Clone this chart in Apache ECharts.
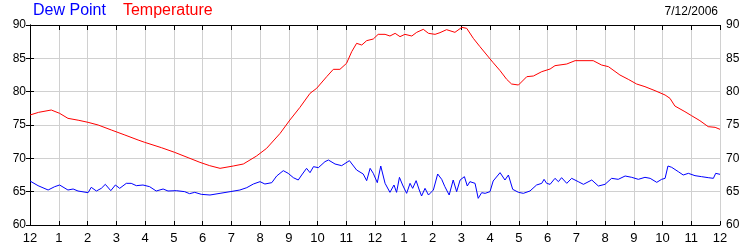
<!DOCTYPE html>
<html>
<head>
<meta charset="utf-8">
<script src="https://cdn.jsdelivr.net/npm/echarts@6/dist/echarts.min.js"></script>
<style>
html,body{margin:0;padding:0;background:#fff;}
#chart{width:750px;height:250px;}
</style>
</head>
<body>
<div id="chart"></div>
<script>
// Hour-of-day labels (0..24)
const hourLabels = ['12','1','2','3','4','5','6','7','8','9','10','11','12','1','2','3','4','5','6','7','8','9','10','11','12'];
const yTicks = [60, 65, 70, 75, 80, 85, 90];
const dateLabel = '7/12/2006';

// Temperature readings: hour of day, value (°F)
const tempHours = [0,0.3,0.74,1.03,1.32,1.7,2.02,2.37,2.83,3.3,3.76,3.99,4.57,5.03,5.5,5.91,6.25,6.61,7.07,7.42,7.88,8.23,8.7,9.04,9.39,9.74,9.97,10.32,10.55,10.78,11.01,11.19,11.36,11.54,11.71,11.94,12.11,12.35,12.52,12.7,12.87,13.04,13.28,13.45,13.68,13.86,14.09,14.26,14.49,14.78,15.02,15.19,15.42,15.65,15.89,16.11,16.35,16.58,16.75,16.99,17.28,17.51,17.8,18.09,18.26,18.67,18.96,19.59,19.88,20.12,20.52,20.81,21.1,21.39,21.74,22.09,22.26,22.43,22.78,23.01,23.3,23.59,23.83,24];
const tempValues = [76.5,76.9,77.25,76.75,76.0,75.7,75.4,75.0,74.25,73.5,72.75,72.4,71.6,70.9,70.1,69.4,68.9,68.5,68.85,69.15,70.35,71.5,73.75,75.75,77.65,79.75,80.5,82.25,83.35,83.35,84.25,86.0,87.25,87.0,87.65,87.9,88.6,88.6,88.35,88.75,88.25,88.6,88.35,88.9,89.35,88.75,88.6,88.85,89.3,88.9,89.65,89.5,88.0,86.75,85.5,84.35,83.15,81.85,81.15,81.0,82.25,82.35,83.0,83.4,83.9,84.15,84.65,84.65,84.0,83.75,82.5,81.85,81.15,80.75,80.15,79.5,79.0,77.85,77.0,76.4,75.65,74.75,74.65,74.35];

// Dew point readings: hour of day, value (°F)
const dewHours = [0,0.28,0.63,0.86,1.03,1.32,1.5,1.67,2.02,2.13,2.31,2.48,2.62,2.81,2.97,3.12,3.35,3.52,3.7,3.93,4.16,4.39,4.63,4.8,5.09,5.38,5.55,5.73,5.96,6.26,6.61,6.96,7.3,7.54,7.77,8.0,8.17,8.41,8.58,8.81,8.98,9.16,9.33,9.45,9.62,9.74,9.86,10.03,10.26,10.38,10.61,10.84,11.11,11.36,11.59,11.71,11.83,11.94,12.08,12.2,12.35,12.52,12.66,12.75,12.85,12.96,13.1,13.22,13.31,13.43,13.54,13.62,13.74,13.86,14.03,14.18,14.32,14.43,14.58,14.72,14.84,14.96,15.11,15.21,15.3,15.48,15.59,15.71,15.83,16.0,16.11,16.35,16.52,16.64,16.79,16.99,17.16,17.39,17.62,17.8,17.88,17.97,18.09,18.26,18.38,18.49,18.67,18.84,19.07,19.25,19.54,19.77,20.0,20.23,20.46,20.7,20.93,21.16,21.39,21.57,21.8,21.97,22.09,22.19,22.32,22.55,22.72,22.9,23.13,23.36,23.59,23.77,23.85,24];
const dewValues = [66.6,65.9,65.25,65.75,66.0,65.25,65.4,65.1,64.85,65.65,65.1,65.5,66.1,65.15,66.0,65.5,66.25,66.25,65.9,66.0,65.75,65.1,65.4,65.1,65.15,65.0,64.7,64.9,64.6,64.5,64.75,65.0,65.25,65.6,66.15,66.5,66.15,66.35,67.35,68.15,67.75,67.1,66.75,67.5,68.5,67.85,68.75,68.6,69.5,69.75,69.15,68.9,69.65,68.25,67.65,66.65,68.5,67.75,66.35,68.85,66.25,64.9,66.0,64.9,67.15,66.0,64.75,66.25,65.5,66.65,65.25,64.35,65.5,64.5,65.25,67.65,66.85,65.75,64.5,66.75,65.0,66.75,67.25,65.85,66.5,66.25,64.0,64.85,64.75,65.0,66.6,67.85,66.75,67.5,65.35,64.9,64.75,65.1,66.0,66.25,66.85,66.25,66.1,67.0,66.5,67.1,66.25,67.0,66.5,66.1,66.75,65.85,66.1,67.0,66.85,67.35,67.15,66.85,67.15,67.0,66.4,66.85,67.0,68.85,68.65,68.0,67.5,67.75,67.4,67.25,67.1,67.0,67.75,67.6];

const pair = (xs, ys) => xs.map((x, i) => [x, ys[i]]);

const chart = echarts.init(document.getElementById('chart'), null, {renderer: 'canvas'});
const font = 'Arial, "Liberation Sans", sans-serif';
const axisLineStyle = {color: '#000', width: 1};
const gridColor = '#d0d0d0';

chart.setOption({
  animation: false,
  backgroundColor: '#fff',
  textStyle: {fontFamily: font},
  grid: {left: 30, right: 30, top: 25, bottom: 25, containLabel: false},
  legend: {
    left: 28, top: 3, padding: 0, itemGap: 12,
    icon: 'none', itemWidth: 0, itemHeight: 0,
    selectedMode: false,
    textStyle: {fontSize: 16, fontFamily: font},
    data: [
      {name: 'Dew Point', textStyle: {color: '#0000ff'}},
      {name: 'Temperature', textStyle: {color: '#ff0000'}}
    ]
  },
  title: {
    text: dateLabel, right: 32, top: 6, padding: 0,
    textStyle: {fontSize: 12, fontWeight: 'normal', color: '#000', fontFamily: font}
  },
  xAxis: [
    {
      type: 'value', min: 0, max: 24, interval: 1, position: 'bottom',
      axisLine: {show: true, lineStyle: axisLineStyle},
      axisTick: {show: true, inside: true, length: 4, lineStyle: axisLineStyle},
      axisLabel: {show: true, margin: 7, fontSize: 13, color: '#000', fontFamily: font,
        formatter: v => hourLabels[Math.round(v)]},
      splitLine: {show: true, lineStyle: {color: gridColor, width: 1}}
    },
    {
      type: 'value', min: 0, max: 24, interval: 1, position: 'top',
      axisLine: {show: true, lineStyle: axisLineStyle},
      axisTick: {show: true, inside: true, length: 5, lineStyle: axisLineStyle},
      axisLabel: {show: false},
      splitLine: {show: false}
    }
  ],
  yAxis: [
    {
      type: 'value', min: yTicks[0], max: yTicks[yTicks.length - 1], interval: 5, position: 'left',
      axisLine: {show: true, lineStyle: axisLineStyle},
      axisTick: {show: true, inside: true, length: 4, lineStyle: axisLineStyle},
      axisLabel: {show: true, margin: 4, fontSize: 12, color: '#000', fontFamily: font},
      splitLine: {show: true, lineStyle: {color: gridColor, width: 1}}
    },
    {
      type: 'value', min: yTicks[0], max: yTicks[yTicks.length - 1], interval: 5, position: 'right',
      axisLine: {show: true, lineStyle: axisLineStyle},
      axisTick: {show: true, inside: true, length: 4, lineStyle: axisLineStyle},
      axisLabel: {show: true, margin: 6, fontSize: 12, color: '#000', fontFamily: font},
      splitLine: {show: false}
    }
  ],
  series: [
    {
      name: 'Dew Point', type: 'line', xAxisIndex: 0, yAxisIndex: 0,
      data: pair(dewHours, dewValues), showSymbol: false, symbol: 'none',
      lineStyle: {color: '#0000ff', width: 1}, itemStyle: {color: '#0000ff'}, z: 3
    },
    {
      name: 'Temperature', type: 'line', xAxisIndex: 0, yAxisIndex: 0,
      data: pair(tempHours, tempValues), showSymbol: false, symbol: 'none',
      lineStyle: {color: '#ff0000', width: 1}, itemStyle: {color: '#ff0000'}, z: 3
    }
  ]
});
</script>
</body>
</html>
